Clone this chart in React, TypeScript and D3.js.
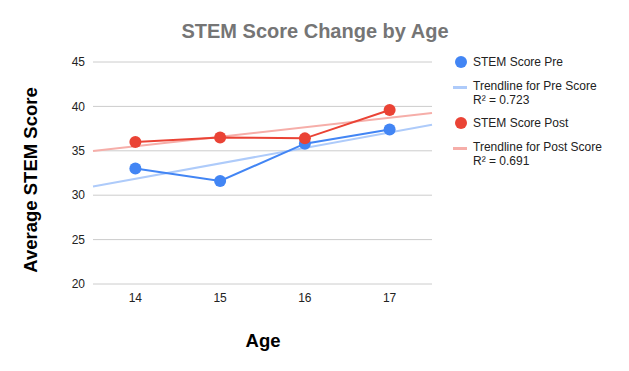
import React from "react";
import * as d3 from "d3";

const ages = [14, 15, 16, 17];
const preScores = [33, 31.6, 35.8, 37.4];
const postScores = [36, 36.5, 36.4, 39.6];
const yTicks = [20, 25, 30, 35, 40, 45];
const preR2 = "R² = 0.723";
const postR2 = "R² = 0.691";

const W = 629;
const H = 371;
const margin = { top: 62, right: 197, bottom: 87, left: 93 };
const blue = "#4285f4";
const red = "#ea4335";
const blueTrend = "#aecbfa";
const redTrend = "#f6aea9";
const font = "'Liberation Sans', Arial, sans-serif";

// least squares fit on age -> score
function fit(xs: number[], ys: number[]) {
  const mx = d3.mean(xs)!;
  const my = d3.mean(ys)!;
  const num = d3.sum(xs, (x, i) => (x - mx) * (ys[i] - my));
  const den = d3.sum(xs, (x) => (x - mx) * (x - mx));
  const slope = num / den;
  return (x: number) => my + slope * (x - mx);
}

export default function App() {
  const iw = W - margin.left - margin.right;
  const ih = H - margin.top - margin.bottom;

  const x = d3.scaleLinear().domain([13.5, 17.5]).range([0, iw]);
  const y = d3.scaleLinear().domain([20, 45]).range([ih, 0]);

  const line = d3
    .line<number>()
    .x((_, i) => x(ages[i]))
    .y((d) => y(d));

  const preFit = fit(ages, preScores);
  const postFit = fit(ages, postScores);
  const ends = [13.5, 17.5];
  const trend = (f: (v: number) => number) =>
    d3.line<number>().x((a) => x(a)).y((a) => y(f(a)))(ends) || "";

  const legend = [
    { kind: "dot", color: blue, lines: ["STEM Score Pre"], y: 62 },
    { kind: "bar", color: blueTrend, lines: ["Trendline for Pre Score", preR2], y: 86 },
    { kind: "dot", color: red, lines: ["STEM Score Post"], y: 123 },
    { kind: "bar", color: redTrend, lines: ["Trendline for Post Score", postR2], y: 147 },
  ];

  return (
    <svg
      width={W}
      height={H}
      style={{ position: "absolute", left: 0, top: 0, fontFamily: font }}
    >
      <rect width={W} height={H} fill="#fff" />
      <text
        x={315}
        y={38}
        textAnchor="middle"
        fontSize={20}
        fontWeight="bold"
        fill="#757575"
      >
        STEM Score Change by Age
      </text>

      <g transform={`translate(${margin.left},${margin.top})`}>
        {yTicks.map((t) => (
          <g key={t}>
            <line x1={0} x2={iw} y1={y(t)} y2={y(t)} stroke="#cccccc" strokeWidth={1} />
            <text x={-8} y={y(t)} dy="0.35em" textAnchor="end" fontSize={12} fill="#222">
              {t}
            </text>
          </g>
        ))}
        {ages.map((a) => (
          <text key={a} x={x(a)} y={ih + 18} textAnchor="middle" fontSize={12} fill="#222">
            {a}
          </text>
        ))}

        <path d={trend(preFit)} stroke={blueTrend} strokeWidth={2} fill="none" />
        <path d={trend(postFit)} stroke={redTrend} strokeWidth={2} fill="none" />

        <path d={line(preScores) || ""} stroke={blue} strokeWidth={2} fill="none" />
        {preScores.map((v, i) => (
          <circle key={"p" + i} cx={x(ages[i])} cy={y(v)} r={6} fill={blue} />
        ))}
        <path d={line(postScores) || ""} stroke={red} strokeWidth={2} fill="none" />
        {postScores.map((v, i) => (
          <circle key={"q" + i} cx={x(ages[i])} cy={y(v)} r={6} fill={red} />
        ))}
      </g>

      <text
        transform="translate(37,180) rotate(-90)"
        textAnchor="middle"
        fontSize={18.5}
        fontWeight="bold"
        fill="#000"
      >
        Average STEM Score
      </text>
      <text x={263} y={347} textAnchor="middle" fontSize={18.5} fontWeight="bold" fill="#000">
        Age
      </text>

      {legend.map((l, i) => (
        <g key={i}>
          {l.kind === "dot" ? (
            <circle cx={461} cy={l.y} r={6} fill={l.color} />
          ) : (
            <rect x={453} y={l.y} width={14} height={3} fill={l.color} />
          )}
          {l.lines.map((s, j) => (
            <text
              key={j}
              x={473}
              y={l.y + j * 14}
              dy="0.35em"
              fontSize={12}
              fill="#222"
            >
              {s}
            </text>
          ))}
        </g>
      ))}
    </svg>
  );
}
